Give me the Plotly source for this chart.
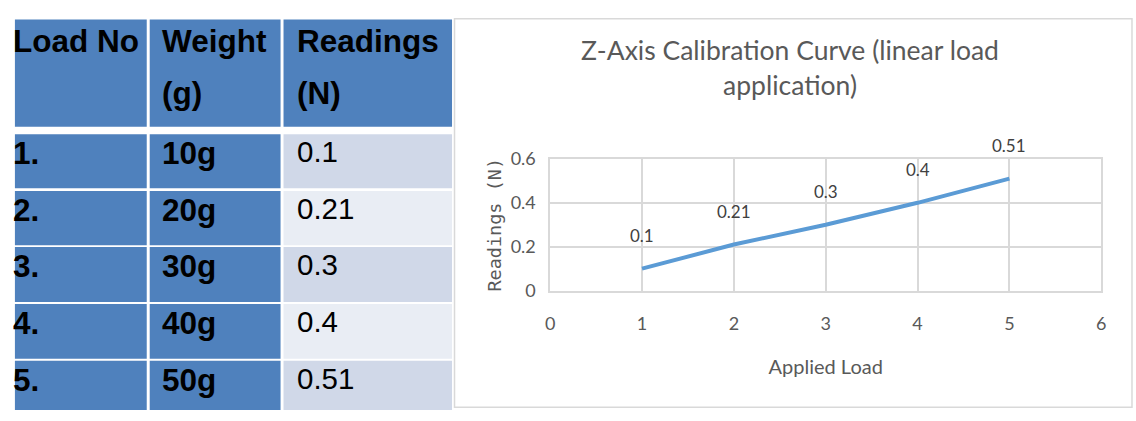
import plotly.graph_objects as go

# ---- data -------------------------------------------------------------
header_lines = [["Load No"], ["Weight", "(g)"], ["Readings", "(N)"]]
load_no = ["1.", "2.", "3.", "4.", "5."]
weights = ["10g", "20g", "30g", "40g", "50g"]
readings = [0.1, 0.21, 0.3, 0.4, 0.51]
applied_load = [1, 2, 3, 4, 5]

x_ticks = [0, 1, 2, 3, 4, 5, 6]
y_ticks = [0, 0.2, 0.4, 0.6]

# ---- page geometry (pixels) ---------------------------------------------
W, H = 1136, 421


def px(x):
    return x / W


def py(y):
    return 1 - y / H


BLUE = "#4F81BD"
LIGHT_A = "#D0D8E8"
LIGHT_B = "#E9EDF4"
GRID = "#D9D9D9"
TXT = "#595959"
LABEL = "#404040"
LINE = "#5B9BD5"

TABLE_FONT = "Liberation Sans, Arial, sans-serif"
CHART_FONT = "Lato, sans-serif"

col_x = [(10, 143), (146, 278), (281, 451)]
col_text_x = [6.5, 156, 292.5]
header_y = (8, 121)
row_tops = [129, 189, 248, 308, 368]
row_bottoms = [186, 246, 306, 366, 420]

shapes = []
annotations = []

# ---- table ------------------------------------------------------------
for ci, (x0, x1) in enumerate(col_x):
    shapes.append(dict(type="rect", xref="paper", yref="paper",
                       x0=px(x0), x1=px(x1), y0=py(header_y[1]), y1=py(header_y[0]),
                       fillcolor=BLUE, line=dict(width=0), layer="below"))
    for li, line in enumerate(header_lines[ci]):
        annotations.append(dict(xref="paper", yref="paper", x=px(col_text_x[ci]),
                                y=py(9 + 55 * li), xanchor="left", yanchor="top",
                                text=f"<b>{line}</b>", showarrow=False,
                                font=dict(family=TABLE_FONT, size=31.5, color="black")))

for ri, (t, b) in enumerate(zip(row_tops, row_bottoms)):
    fills = [BLUE, BLUE, LIGHT_A if ri % 2 == 0 else LIGHT_B]
    for ci, (x0, x1) in enumerate(col_x):
        shapes.append(dict(type="rect", xref="paper", yref="paper",
                           x0=px(x0), x1=px(x1), y0=py(b), y1=py(t),
                           fillcolor=fills[ci], line=dict(width=0), layer="below"))
    cells = [(f"<b>{load_no[ri]}</b>", 31.5), (f"<b>{weights[ri]}</b>", 31.5),
             (f"{readings[ri]:g}", 29.5)]
    for ci, (txt, fs) in enumerate(cells):
        annotations.append(dict(xref="paper", yref="paper", x=px(col_text_x[ci]),
                                y=py(t - 1), xanchor="left", yanchor="top",
                                text=txt, showarrow=False,
                                font=dict(family=TABLE_FONT, size=fs, color="black")))

# ---- chart frame --------------------------------------------------------
shapes.append(dict(type="rect", xref="paper", yref="paper",
                   x0=px(453.5), x1=px(1137), y0=py(417), y1=py(7),
                   fillcolor="white", line=dict(color=GRID, width=1.5), layer="below"))

# ---- data labels ------------------------------------------------------
for xv, yv in zip(applied_load, readings):
    annotations.append(dict(xref="x", yref="y", x=xv, y=yv, text=f"{yv:g}",
                            showarrow=False, yshift=33,
                            font=dict(family=CHART_FONT, size=17, color=LABEL)))

fig = go.Figure()
fig.add_trace(go.Scatter(x=applied_load, y=readings, mode="lines",
                         line=dict(color=LINE, width=4), hoverinfo="skip"))

fig.update_layout(
    width=W, height=H,
    margin=dict(l=0, r=0, t=0, b=0),
    paper_bgcolor="white", plot_bgcolor="white",
    showlegend=False,
    shapes=shapes,
    annotations=annotations,
    title=dict(text="Z-Axis Calibration Curve (linear load<br>application)",
               x=px(792), xanchor="center", xref="paper",
               y=py(51), yanchor="top", yref="paper",
               font=dict(family=CHART_FONT, size=26.5, color=TXT)),
    xaxis=dict(domain=[px(550), px(1106)], range=[0, 6], tickvals=x_ticks,
               showgrid=True, gridcolor=GRID, gridwidth=1.5,
               showline=True, linecolor=GRID, linewidth=1.5, mirror=True,
               zeroline=False, ticks="", ticklabelstandoff=16,
               tickfont=dict(family=CHART_FONT, size=18, color=TXT),
               title=dict(text="Applied Load", standoff=27,
                          font=dict(family=CHART_FONT, size=20, color=TXT))),
    yaxis=dict(domain=[py(294), py(155)], range=[0, 0.6], tickvals=y_ticks,
               showgrid=True, gridcolor=GRID, gridwidth=1.5,
               showline=True, linecolor=GRID, linewidth=1.5, mirror=True,
               zeroline=False, ticks="", ticklabelstandoff=9,
               tickfont=dict(family=CHART_FONT, size=18, color=TXT),
               title=dict(text="Readings (N)", standoff=4,
                          font=dict(family="DejaVu Sans Mono, monospace", size=18.5, color=TXT))),
)

fig.write_html("out.html")
